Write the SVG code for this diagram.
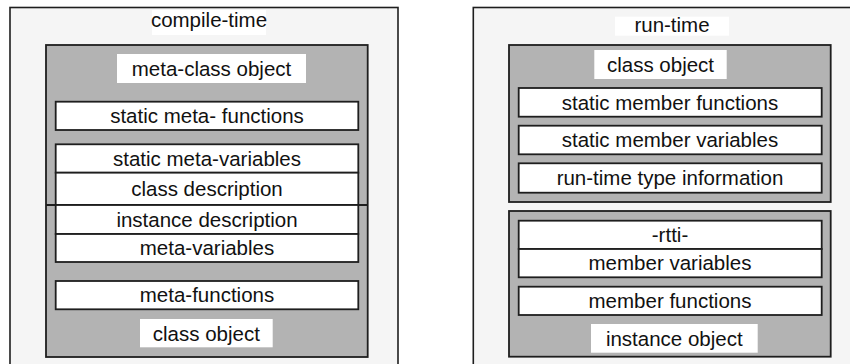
<svg xmlns="http://www.w3.org/2000/svg" width="850" height="364" viewBox="0 0 850 364">
<style>
.outer{fill:#f5f5f5;stroke:#1e1e1e;stroke-width:1.6}
.gray{fill:#b3b3b3;stroke:#1e1e1e;stroke-width:1.8}
.box{fill:#ffffff;stroke:#1e1e1e;stroke-width:1.8}
.lbl{fill:#ffffff;stroke:none}
text{font-family:"Liberation Sans",Arial,sans-serif;font-size:20.5px;fill:#111;text-anchor:middle}
.sep{stroke:#1e1e1e;stroke-width:1.8}
</style>
<rect width="850" height="364" fill="#ffffff"/>
<g id="compile-time">
  <rect class="outer" x="10" y="7.5" width="388" height="370"/>
  <rect class="lbl" x="152" y="10" width="114" height="25"/>
  <text x="209" y="27">compile-time</text>
  <g id="class-object-ct">
    <rect class="gray" x="46" y="45" width="321.7" height="312"/>
    <rect class="lbl" x="117" y="54" width="189" height="29"/>
    <text x="211.5" y="75.5">meta-class object</text>
    <g id="static-meta-functions">
      <rect class="box" x="55.7" y="101.7" width="302.6" height="28.3"/>
      <text x="207" y="123">static meta- functions</text>
    </g>
    <g id="static-meta-variables">
      <rect class="box" x="55.7" y="144.3" width="302.6" height="28.4"/>
      <text x="207" y="165.5">static meta-variables</text>
    </g>
    <g id="class-description">
      <rect class="box" x="55.7" y="172.7" width="302.6" height="32.3"/>
      <text x="207" y="196">class description</text>
    </g>
    <line class="sep" x1="46" y1="205" x2="367.7" y2="205"/>
    <g id="instance-description">
      <rect class="box" x="55.7" y="205" width="302.6" height="29"/>
      <text x="207" y="226.5">instance description</text>
    </g>
    <g id="meta-variables">
      <rect class="box" x="55.7" y="234" width="302.6" height="28"/>
      <text x="207" y="254.5">meta-variables</text>
    </g>
    <g id="meta-functions">
      <rect class="box" x="55.7" y="281" width="302.6" height="28.3"/>
      <text x="207" y="302">meta-functions</text>
    </g>
    <rect class="lbl" x="140" y="319" width="132.7" height="28.3"/>
    <text x="206.3" y="340.5">class object</text>
  </g>
</g>
<g id="run-time">
  <rect class="outer" x="473.3" y="7.5" width="390" height="370"/>
  <rect class="lbl" x="615" y="16.7" width="114" height="19"/>
  <text x="672" y="32">run-time</text>
  <g id="class-object-rt">
    <rect class="gray" x="509" y="45" width="321.7" height="157"/>
    <rect class="lbl" x="594.3" y="50" width="132.4" height="29"/>
    <text x="660.5" y="71.5">class object</text>
    <g id="static-member-functions">
      <rect class="box" x="518.7" y="88" width="303" height="28.7"/>
      <text x="670" y="109.5">static member functions</text>
    </g>
    <g id="static-member-variables">
      <rect class="box" x="518.7" y="125.7" width="303" height="28.6"/>
      <text x="670" y="147">static member variables</text>
    </g>
    <g id="rtti">
      <rect class="box" x="518.7" y="163.3" width="303" height="29.4"/>
      <text x="670" y="185">run-time type information</text>
    </g>
  </g>
  <g id="instance-object">
    <rect class="gray" x="509" y="211" width="321.7" height="145.7"/>
    <g id="rtti-ref">
      <rect class="box" x="518.7" y="220.7" width="303" height="28.3"/>
      <text x="670" y="242">-rtti-</text>
    </g>
    <g id="member-variables">
      <rect class="box" x="518.7" y="249" width="303" height="28.3"/>
      <text x="670" y="270">member variables</text>
    </g>
    <g id="member-functions">
      <rect class="box" x="518.7" y="286.7" width="303" height="28.3"/>
      <text x="670" y="308">member functions</text>
    </g>
    <rect class="lbl" x="591" y="324" width="166.7" height="28.7"/>
    <text x="674.3" y="345.5">instance object</text>
  </g>
</g>
<g id="connectors"></g>
</svg>
